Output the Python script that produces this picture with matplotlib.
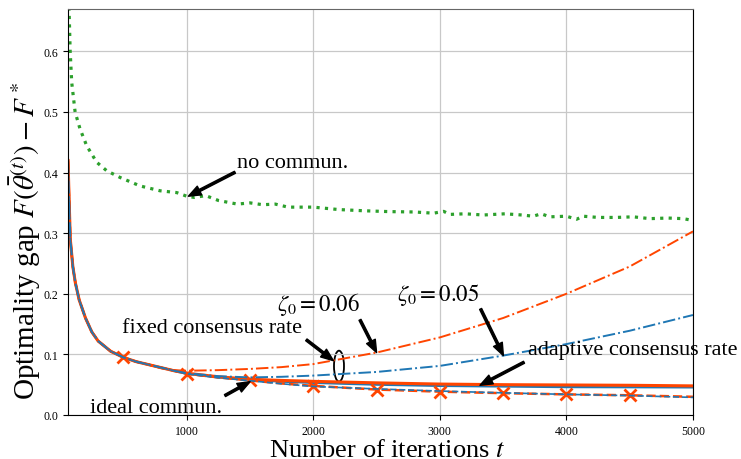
import numpy as np
import matplotlib
matplotlib.use('Agg')
import matplotlib.pyplot as plt
from matplotlib.patches import Ellipse

plt.rcParams['font.family'] = 'serif'
plt.rcParams['font.serif'] = ['Liberation Serif', 'DejaVu Serif']
plt.rcParams['mathtext.fontset'] = 'stix'

# no communication (noisy, green dotted)
t_none = [62, 70, 79, 91, 118, 157, 210, 289, 368, 473, 631, 789, 921, 1000,
          1060, 1150, 1250, 1400, 1500, 1600, 1700, 1800, 2000, 2100, 2200,
          2400, 2600, 2800, 2950, 3030, 3080, 3200, 3343, 3514, 3650, 3738,
          3800, 3869, 4000, 4080, 4133, 4250, 4396, 4528, 4660, 4800, 4923, 5000]
gap_none = [0.69, 0.67, 0.60, 0.549, 0.50, 0.472, 0.444, 0.417, 0.403, 0.392,
            0.378, 0.370, 0.367, 0.361, 0.359, 0.362, 0.354, 0.348, 0.350,
            0.347, 0.348, 0.343, 0.343, 0.341, 0.339, 0.337, 0.3356, 0.335,
            0.333, 0.336, 0.331, 0.332, 0.330, 0.332, 0.330, 0.328, 0.332,
            0.327, 0.328, 0.323, 0.328, 0.326, 0.326, 0.327, 0.324, 0.325,
            0.324, 0.321]

# shared time grid for the other curves
t = [62, 70, 80, 100, 120, 150, 200, 250, 300, 400, 500, 600, 700, 800, 900,
     1000, 1250, 1500, 1750, 2000, 2500, 3000, 3500, 4000, 4500, 5000]
early = [0.42, 0.36, 0.29, 0.245, 0.218, 0.19, 0.16, 0.137, 0.122, 0.105,
         0.095, 0.088, 0.083, 0.078, 0.073]

ideal_06 = early + [0.068, 0.062, 0.057, 0.052, 0.048, 0.042, 0.0385, 0.036, 0.034, 0.0325, 0.030]
ideal_05 = early + [0.068, 0.0615, 0.0565, 0.0515, 0.047, 0.043, 0.0395, 0.0365, 0.034, 0.032, 0.029]
adapt_06 = early + [0.069, 0.063, 0.059, 0.057, 0.0555, 0.053, 0.051, 0.050, 0.0495, 0.049, 0.048]
adapt_05 = early + [0.068, 0.062, 0.058, 0.055, 0.053, 0.050, 0.048, 0.047, 0.046, 0.0458, 0.0455]
fixed_06 = early[:-2] + [0.077, 0.074, 0.073, 0.074, 0.076, 0.079, 0.084, 0.103, 0.128, 0.160, 0.200, 0.245, 0.303]
fixed_05 = early + [0.069, 0.064, 0.062, 0.063, 0.065, 0.071, 0.081, 0.098, 0.117, 0.139, 0.165]

marker_idx = [i for i, v in enumerate(t) if v % 500 == 0 and v < 5000]

orange = '#FF4500'
blue = '#1f77b4'
green = '#2ca02c'

fig = plt.figure(figsize=(7.41, 4.60), dpi=100)
ax = fig.add_axes([0.0918, 0.0957, 0.8434, 0.8826])

ax.plot(t_none, gap_none, ':', color=green, lw=2.3)
ax.plot(t, adapt_05, '-', color=blue, lw=1.6)
ax.plot(t, adapt_06, '-', color=orange, lw=2.2)
ax.plot(t, ideal_06, '--', color=orange, lw=1.8, marker='x', ms=9, mew=2,
        markevery=marker_idx)
ax.plot(t, ideal_05, '--', color=blue, lw=1.2)
ax.plot(t, fixed_06, '-.', color=orange, lw=1.4)
ax.plot(t, fixed_05, '-.', color=blue, lw=1.4)

ax.set_xlim(62, 5000)
ax.set_ylim(0, 0.67)
ax.set_xticks([1000, 2000, 3000, 4000, 5000])
ax.set_yticks([0.0, 0.1, 0.2, 0.3, 0.4, 0.5, 0.6])
ax.tick_params(labelsize=8.5)
ax.grid(True, color='#c8c8c8', lw=0.9)
ax.spines['top'].set_color('#666666')

ax.set_xlabel('Number of iterations $t$', fontsize=19)
ax.xaxis.set_label_coords(0.511, -0.058)
ax.set_ylabel(r'Optimality gap $F(\bar{\theta}^{(t)})-F^*$', fontsize=21)
ax.yaxis.set_label_coords(-0.040, 0.431)

arrow = dict(facecolor='black', edgecolor='black', width=1.6, headwidth=7,
             headlength=9, shrink=0.0)

def note(txt, pos, tail, tip, size=16):
    ax.text(pos[0], pos[1], txt, fontsize=size, va='baseline', ha='left')
    ax.annotate('', xy=tip, xytext=tail, arrowprops=arrow)

note('no commun.', (1400, 0.409), (1381, 0.4005), (1013, 0.361))
note('fixed consensus rate', (486, 0.1365), (1945, 0.124), (2159, 0.0896))
note(r'$\zeta_0=0.06$', (1711, 0.174), (2369, 0.157), (2500, 0.103), size=16.5)
note(r'$\zeta_0=0.05$', (2659, 0.190), (3322, 0.175), (3502, 0.098), size=16.5)
note('adaptive consensus rate', (3699, 0.1007), (3665, 0.087), (3317, 0.049))
note('ideal commun.', (236, 0.0044), (1302, 0.032), (1500, 0.055))

ax.add_patch(Ellipse((2203, 0.0806), 79, 0.051, fill=False, ec='black', lw=1.3))

fig.savefig('out.png', dpi=100)
